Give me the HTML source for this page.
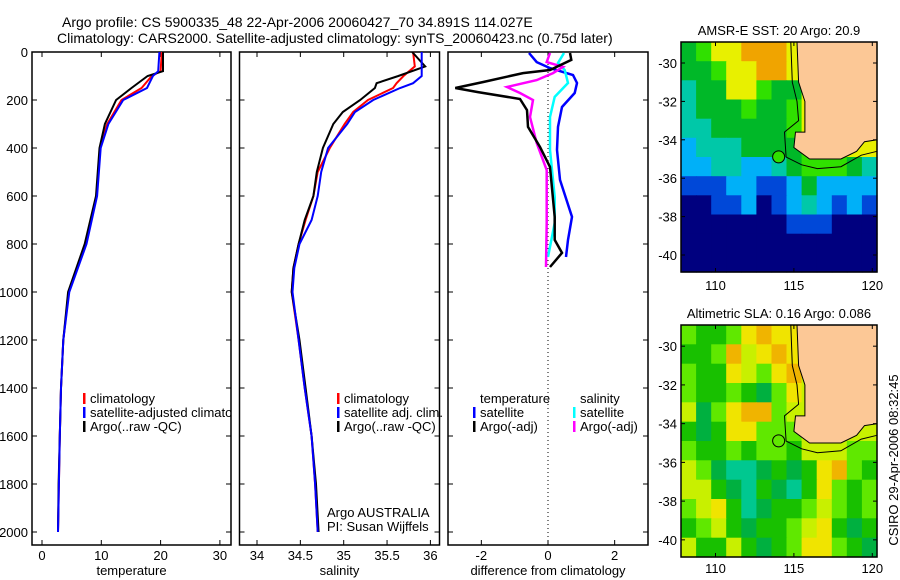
<!DOCTYPE html>
<html><head><meta charset="utf-8">
<style>
body{margin:0;background:#fff;}
svg{display:block;font-family:"Liberation Sans",sans-serif;}
text{fill:#000;}
</style></head>
<body>
<svg id="fig" width="900" height="580" viewBox="0 0 900 580">
<defs>
<clipPath id="c1"><rect x="32" y="52" width="199" height="493"/></clipPath>
</defs>
<text x="62" y="27" font-size="14">Argo profile: CS 5900335_48 22-Apr-2006 20060427_70 34.891S 114.027E</text>
<text x="57" y="43" font-size="14">Climatology: CARS2000. Satellite-adjusted climatology: synTS_20060423.nc (0.75d later)</text>
<g id="p1"></g>
<g id="p2"></g>
<g id="p3"></g>
<g id="m1"></g>
<g id="m2"></g>
<text transform="translate(898,460) rotate(-90)" text-anchor="middle" font-size="13">CSIRO 29-Apr-2006 08:32:45</text>
</svg>
<script>
// ---- profile data ----
const tDepth = [0,80,100,150,200,300,400,600,800,1000,1200,1400,1600,1800,2000];
const tClim  = [20.2,20.0,18.5,16.8,13.4,11.0,9.8,9.2,7.3,4.5,3.6,3.2,3.0,2.85,2.7];
const tSat   = [19.8,19.6,18.7,17.7,13.7,11.2,9.9,9.3,7.5,4.6,3.6,3.2,3.0,2.85,2.7];
const tArgo  = [20.4,20.4,17.8,15.1,12.5,10.6,9.7,9.1,7.2,4.4,3.6,3.2,3.0,2.8,2.7];
const sDepth = [0,60,100,130,150,200,250,300,400,500,600,700,800,900,1000,1200,1400,1600,1800,2000];
const sClim  = [35.8,35.82,35.69,35.61,35.57,35.28,35.11,35.01,34.84,34.70,34.65,34.56,34.48,34.42,34.40,34.48,34.55,34.63,34.67,34.70];
const sSat   = [35.9,35.9,35.9,35.8,35.65,35.34,35.13,35.04,34.82,34.74,34.70,34.63,34.49,34.43,34.41,34.48,34.55,34.63,34.67,34.70];
const sArgo  = [35.79,35.94,35.63,35.38,35.36,35.19,34.99,34.88,34.76,34.69,34.65,34.55,34.48,34.42,34.40,34.49,34.56,34.63,34.68,34.71];
const dtSatDepth = [4,42,67,96,129,171,229,312,408,533,687,783,854];
const dtSat      = [-0.57,-0.34,0.06,0.75,0.87,0.8,0.42,0.3,0.27,0.36,0.72,0.6,0.54];
const dtArgoDepth = [4,33,75,88,125,150,167,196,242,312,396,479,687,783,837,896];
const dtArgo      = [0.66,0.7,0.06,-0.75,-1.94,-2.78,-2.1,-0.84,-0.63,-0.6,-0.24,0.06,0.2,0.2,0.42,0.06];
const dsSatDepth = [4,46,75,129,187,271,408,604,712,854];
const dsSat      = [0.48,0.3,0.5,0.6,0.2,0.06,0.06,0.2,0.2,0.0];
const dsArgoDepth = [4,42,62,88,117,146,171,200,271,379,492,712,896];
const dsArgo      = [0.06,-0.04,0.45,0.15,-0.34,-1.23,-0.84,-0.45,-0.54,-0.34,-0.04,-0.04,-0.06];
const depthTicks = [0,200,400,600,800,1000,1200,1400,1600,1800,2000];
const tTicks = [0,10,20,30];
const sTicks = [34,34.5,35,35.5,36];
const dTicks = [-2,0,2];
// ---- map data ----
const sstRows = [
"GHYYOOOYYYYYY","GGHYYOOYYYYYY","CGGYYHGGYYYYY","CGGGHGGHYYYYY","CCGGGGGHYHYYY","LCCCGGGGHGYYY",
"LLCCLLCGHHHGC","BBBLLBBLGLLLL","NNBBLNBLCLBLB","NNNNNNNBBBNNN","NNNNNNNNNNNNN","NNNNNNNNNNNNN"];
const slaRows = [
"HGGHEOEEYYYYY","GGHOYEOEYYYYY","HGGEYHEOYYYYY","HGGHGDHEYYYYY","YDHEOOHYYYYYY","GDGEEHHHYYYYY",
"HGGHGHHGYYYHH","YHDTTDGDGEOHG","YYGDTGDTGEHGH","HYEGTDGGHYHGH","GHYGDGGHYEGDG","YGGYGDGHEEHGD"];
const coastLon = [115.2,115.3,115.7,115.7,115.1,115.0,116.0,117.0,118.0,119.0,119.5,120.3];
const coastLat = [-28.9,-31,-32,-33.6,-33.6,-34.4,-35,-35,-35,-34.6,-34.1,-34.0];
const shelfLon = [114.8,114.9,115.2,115.3,114.4,114.5,115.5,116.5,118,119.3,120.3];
const shelfLat = [-28.9,-31,-32,-33,-33.6,-34.9,-35.3,-35.5,-35.4,-34.8,-34.6];
const floatLon = 114.027, floatLat = -34.891;

const NS="http://www.w3.org/2000/svg";
function mk(parent,tag,attrs){const e=document.createElementNS(NS,tag);for(const k in attrs)e.setAttribute(k,attrs[k]);parent.appendChild(e);return e;}
const Y0=52, YB=545;
const yScale = d => Y0 + d*0.24;

function frame(g,x0,x1,xs,ticks,fmt,label,showY){
  const r=mk(g,'rect',{x:x0,y:Y0,width:x1-x0,height:YB-Y0,fill:'none',stroke:'#000','stroke-width':1.5});
  
  
  depthTicks.forEach(d=>{
    const y=yScale(d);
    mk(g,'line',{x1:x0,x2:x0+5,y1:y,y2:y,stroke:'#000'});
    mk(g,'line',{x1:x1-5,x2:x1,y1:y,y2:y,stroke:'#000'});
    if(showY){const t=mk(g,'text',{x:x0-4,y:y+5,'text-anchor':'end','font-size':13});t.textContent=d;
      
      }
  });
  ticks.forEach(v=>{
    const x=xs(v);
    mk(g,'line',{x1:x,x2:x,y1:YB,y2:YB-5,stroke:'#000'});
    mk(g,'line',{x1:x,x2:x,y1:Y0,y2:Y0+5,stroke:'#000'});
    const t=mk(g,'text',{x:x,y:YB+15,'text-anchor':'middle','font-size':13});t.textContent=fmt(v);
    
    
  });
  const l=mk(g,'text',{x:(x0+x1)/2,y:YB+30,'text-anchor':'middle','font-size':13});l.textContent=label;
  
  
}
function line(g,xs,vals,depths,color,name,w){
  const pts=vals.map((v,i)=>xs(v).toFixed(1)+','+yScale(depths[i]).toFixed(1)).join(' ');
  const p=mk(g,'polyline',{points:pts,fill:'none',stroke:color,'stroke-width':w||2});
  
  
}
function legend(g,x,y,items){
  items.forEach((it,i)=>{
    if(it[0]) mk(g,'rect',{x:x,y:y+i*14-10,width:2.5,height:11,fill:it[0]});
    const t=mk(g,'text',{x:x+7,y:y+i*14,'font-size':13});t.textContent=it[1];
    
    
  });
}
// Panel 1
const g1=document.getElementById('p1');
const xT=v=>42+5.93*v;
frame(g1,32,231,xT,tTicks,v=>v,'temperature',true);
line(g1,xT,tClim,tDepth,'#f00','line-temp-climatology');
line(g1,xT,tArgo,tDepth,'#000','line-temp-argo');
line(g1,xT,tSat,tDepth,'#00f','line-temp-satellite');
const lg1=mk(g1,'g',{'clip-path':'url(#c1)'});
legend(lg1,83,403,[['#f00','climatology'],['#00f','satellite-adjusted climatology'],['#000','Argo(..raw -QC)']]);
// Panel 2
const g2=document.getElementById('p2');
const xS=v=>257+86.7*(v-34);
frame(g2,239.5,439.5,xS,sTicks,v=>v,'salinity',false);
line(g2,xS,sClim,sDepth,'#f00','line-sal-climatology');
line(g2,xS,sArgo,sDepth,'#000','line-sal-argo');
line(g2,xS,sSat,sDepth,'#00f','line-sal-satellite');
legend(g2,337,403,[['#f00','climatology'],['#00f','satellite adj. clim.'],['#000','Argo(..raw -QC)']]);
const a1=mk(g2,'text',{x:327,y:517,'font-size':13});a1.textContent='Argo AUSTRALIA';


const a2=mk(g2,'text',{x:327,y:531,'font-size':13});a2.textContent='PI: Susan Wijffels';


// Panel 3
const g3=document.getElementById('p3');
const xD=v=>548+33.33*v;
const fr3=document.createElementNS(NS,'g');g3.appendChild(fr3);
const defs=document.querySelector('defs');
const cp=mk(defs,'clipPath',{id:'c3'});mk(cp,'rect',{x:448,y:Y0,width:200,height:YB-Y0});
frame(fr3,448,648,xD,dTicks,v=>v,'difference from climatology',false);
mk(g3,'line',{x1:xD(0),x2:xD(0),y1:Y0,y2:YB,stroke:'#000','stroke-dasharray':'1,3'});
const lg=mk(g3,'g',{'clip-path':'url(#c3)'});
line(lg,xD,dtSat,dtSatDepth,'#00f','line-temp-diff-satellite',2.5);
line(lg,xD,dsSat,dsSatDepth,'#0ff','line-sal-diff-satellite',2.5);
line(lg,xD,dsArgo,dsArgoDepth,'#f0f','line-sal-diff-argo',2.5);
line(lg,xD,dtArgo,dtArgoDepth,'#000','line-temp-diff-argo',2.5);
legend(g3,473,403,[[null,'temperature'],['#00f','satellite'],['#000','Argo(-adj)']]);
legend(g3,573,403,[[null,'salinity'],['#0ff','satellite'],['#f0f','Argo(-adj)']]);

// Maps
const sstCol={N:'#00007f',B:'#0048d8',L:'#00b0f8',C:'#00c8a8',G:'#00b828',H:'#30e000',Y:'#e8f000',O:'#f0a400'};
const slaCol={G:'#18c000',D:'#00b040',T:'#00c890',H:'#60e800',Y:'#c8f000',E:'#f0e400',O:'#f0b400'};
function map(id,top,bot,rows,cols,title,xLabY){
  const g=document.getElementById(id);
  const L=681,R=877,lon0=107.8,lon1=120.3;
  const lat30y = top+21*(bot-top)/230, pxLat=(bot-top)*192/230/10;
  const mx=lon=>L+(lon-lon0)*(R-L)/(lon1-lon0);
  const my=lat=>lat30y+(-30-lat)*pxLat;
  const nr=rows.length,nc=rows[0].length,cw=(R-L)/nc,ch=(bot-top)/nr;
  rows.forEach((row,r)=>{for(let c=0;c<nc;c++){
    const cell=mk(g,'rect',{x:(L+c*cw).toFixed(1),y:(top+r*ch).toFixed(1),width:(cw+0.6).toFixed(1),height:(ch+0.6).toFixed(1),fill:cols[row[c]]||'#ccc'});
    
    
  }});
  const landPts=coastLon.map((v,i)=>mx(v).toFixed(1)+','+my(coastLat[i]).toFixed(1));
  landPts.push(R+','+top);landPts.push(mx(115.2).toFixed(1)+','+top);
  const land=mk(g,'polygon',{points:landPts.join(' '),fill:'#fcc896',stroke:'#000','stroke-width':1});
  
  
  const sh=mk(g,'polyline',{points:shelfLon.map((v,i)=>mx(v).toFixed(1)+','+my(shelfLat[i]).toFixed(1)).join(' '),fill:'none',stroke:'#000','stroke-width':1});
  
  
  const fl=mk(g,'circle',{cx:mx(floatLon),cy:my(floatLat),r:6,fill:cols.H||'#60e800',stroke:'#000','stroke-width':1});
  
  
  const fr=mk(g,'rect',{x:L,y:top,width:R-L,height:bot-top,fill:'none',stroke:'#000','stroke-width':1.5});
  
  
  [-30,-32,-34,-36,-38,-40].forEach(lat=>{
    const y=my(lat);
    mk(g,'line',{x1:L,x2:L+4,y1:y,y2:y,stroke:'#000'});
    mk(g,'line',{x1:R-4,x2:R,y1:y,y2:y,stroke:'#000'});
    const t=mk(g,'text',{x:L-4,y:y+5,'text-anchor':'end','font-size':13});t.textContent=lat;
    
    
  });
  [110,115,120].forEach(lon=>{
    const x=mx(lon);
    mk(g,'line',{x1:x,x2:x,y1:bot,y2:bot-4,stroke:'#000'});
    mk(g,'line',{x1:x,x2:x,y1:top,y2:top+4,stroke:'#000'});
    const t=mk(g,'text',{x:x,y:xLabY,'text-anchor':'middle','font-size':13});t.textContent=lon;
    
    
  });
  const tt=mk(g,'text',{x:(L+R)/2,y:top-7,'text-anchor':'middle','font-size':13});tt.textContent=title;
  
  
}
map('m1',42,272,sstRows,sstCol,'AMSR-E SST: 20 Argo: 20.9',290);
map('m2',325,557,slaRows,slaCol,'Altimetric SLA: 0.16 Argo: 0.086',573);
</script>
</body></html>
